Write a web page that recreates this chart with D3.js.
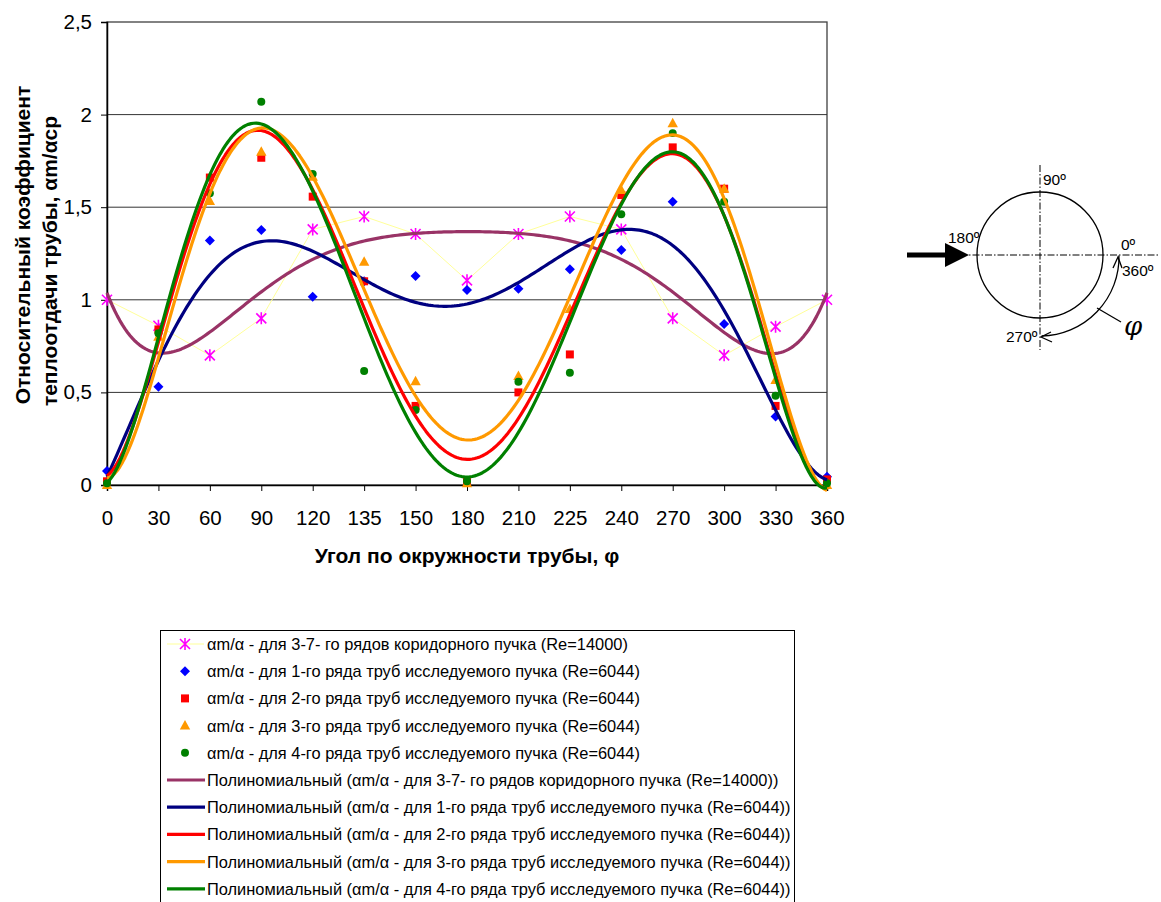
<!DOCTYPE html>
<html>
<head>
<meta charset="utf-8">
<script src="https://cdn.jsdelivr.net/npm/d3@7"></script>
<style>
  html, body { margin: 0; padding: 0; background: #fff; }
  svg { display: block; font-family: "Liberation Sans", Arial, sans-serif; }
</style>
</head>
<body>
<svg id="chart" width="1161" height="902"></svg>
<script>
// Angle categories along the tube circumference (degrees)
const categories = ["0", "30", "60", "90", "120", "135", "150", "180", "210", "225", "240", "270", "300", "330", "360"];
const yTicks = [0, 0.5, 1, 1.5, 2, 2.5];

// Relative heat transfer coefficient αm/α for each tube row
const rows37 = [1.0, 0.86, 0.70, 0.90, 1.38, 1.45, 1.355, 1.105, 1.355, 1.45, 1.38, 0.90, 0.70, 0.855, 1.0];
const row1 = [0.075, 0.53, 1.32, 1.377, 1.017, 1.10, 1.128, 1.053, 1.06, 1.165, 1.269, 1.53, 0.87, 0.37, 0.045];
const row2 = [0.02, 0.84, 1.66, 1.767, 1.557, 1.10, 0.427, 0.02, 0.50, 0.705, 1.566, 1.823, 1.60, 0.427, 0.03];
const row3 = [0.0, 0.80, 1.533, 1.80, 1.665, 1.206, 0.56, 0.01, 0.589, 0.95, 1.593, 1.953, 1.60, 0.567, 0.0];
const row4 = [0.01, 0.82, 1.575, 2.07, 1.68, 0.615, 0.405, 0.02, 0.558, 0.606, 1.462, 1.90, 1.53, 0.482, 0.01];

const seriesNames = [
  "αm/α - для 3-7- го рядов коридорного пучка (Re=14000)",
  "αm/α - для 1-го ряда труб исследуемого пучка (Re=6044)",
  "αm/α - для 2-го ряда труб исследуемого пучка (Re=6044)",
  "αm/α - для 3-го ряда труб исследуемого пучка (Re=6044)",
  "αm/α - для 4-го ряда труб исследуемого пучка (Re=6044)"
];
const series = [
  { name: seriesNames[0], values: rows37, marker: "star",     color: "#FF00FF", trend: "#993366" },
  { name: seriesNames[1], values: row1,   marker: "diamond",  color: "#0000FF", trend: "#000080" },
  { name: seriesNames[2], values: row2,   marker: "square",   color: "#FF0000", trend: "#FF0000" },
  { name: seriesNames[3], values: row3,   marker: "triangle", color: "#FF9900", trend: "#FF9900" },
  { name: seriesNames[4], values: row4,   marker: "circle",   color: "#008000", trend: "#008000" }
];

const svg = d3.select("#chart");
const plot = { left: 107, right: 827, top: 22, bottom: 485 };

const x = d3.scalePoint().domain(categories).range([plot.left, plot.right]);
const y = d3.scaleLinear().domain([0, 2.5]).range([plot.bottom, plot.top]);
const fmt = v => String(v).replace(".", ",");

// Continuous position along the category axis (index 0..n-1) for trend curves
const xi = d3.scaleLinear().domain([0, categories.length - 1]).range([plot.left, plot.right]);

// Least-squares polynomial fit (order 6) over category index 1..n
function polyFit(values, order) {
  const n = values.length;
  const mid = (n + 1) / 2, half = (n - 1) / 2;
  const m = order + 1;
  const A = Array.from({ length: m }, () => new Array(m + 1).fill(0));
  values.forEach((v, i) => {
    const t = (i + 1 - mid) / half;
    const p = [];
    for (let k = 0; k < m; k++) p.push(Math.pow(t, k));
    for (let r = 0; r < m; r++) {
      for (let c = 0; c < m; c++) A[r][c] += p[r] * p[c];
      A[r][m] += p[r] * v;
    }
  });
  for (let col = 0; col < m; col++) {
    let piv = col;
    for (let r = col + 1; r < m; r++) if (Math.abs(A[r][col]) > Math.abs(A[piv][col])) piv = r;
    [A[col], A[piv]] = [A[piv], A[col]];
    for (let r = 0; r < m; r++) {
      if (r === col) continue;
      const f = A[r][col] / A[col][col];
      for (let c = col; c <= m; c++) A[r][c] -= f * A[col][c];
    }
  }
  const coef = A.map((row, k) => row[m] / row[k]);
  return idx => {
    const t = (idx + 1 - mid) / half;
    let s = 0;
    for (let k = m - 1; k >= 0; k--) s = s * t + coef[k];
    return s;
  };
}

// Marker shapes
function markerPath(type) {
  switch (type) {
    case "diamond": return "M0,-5L5,0L0,5L-5,0Z";
    case "square": return "M-4,-4H4V4H-4Z";
    case "triangle": return "M0,-5.5L5.2,4L-5.2,4Z";
    case "circle": return d3.symbol().type(d3.symbolCircle).size(50)();
    case "star": return "M-5,-5L5,5M-5,5L5,-5M0,-6L0,6";
  }
}
function drawMarker(g, type, color) {
  const p = g.append("path").attr("d", markerPath(type));
  if (type === "star") p.attr("fill", "none").attr("stroke", color).attr("stroke-width", 1.6);
  else p.attr("fill", color);
  return p;
}

// Plot frame and horizontal gridlines
svg.append("rect")
  .attr("x", plot.left).attr("y", plot.top)
  .attr("width", plot.right - plot.left).attr("height", plot.bottom - plot.top)
  .attr("fill", "#fff").attr("stroke", "#404040").attr("stroke-width", 1.3);

svg.append("g").selectAll("line").data(yTicks.filter(v => v > 0 && v < 2.5)).join("line")
  .attr("x1", plot.left).attr("x2", plot.right)
  .attr("y1", d => y(d)).attr("y2", d => y(d))
  .attr("stroke", "#333").attr("stroke-width", 1);

// Axes
const yAxis = svg.append("g").attr("transform", `translate(${plot.left},0)`)
  .call(d3.axisLeft(y).tickValues(yTicks).tickFormat(fmt).tickSize(6).tickPadding(9));
const xAxis = svg.append("g").attr("transform", `translate(0,${plot.bottom})`)
  .call(d3.axisBottom(x).tickSize(6).tickPadding(19));
[xAxis, yAxis].forEach(a => {
  a.select(".domain").attr("stroke", "#000").attr("stroke-width", 1.5);
  a.selectAll(".tick line").attr("stroke", "#000");
  a.selectAll(".tick text").attr("font-size", 20.5).attr("fill", "#000")
    .attr("font-family", "Liberation Sans, Arial, sans-serif");
});

// Axis titles
svg.append("text").attr("x", 467).attr("y", 563).attr("text-anchor", "middle")
  .attr("font-size", 21).attr("font-weight", "bold").text("Угол по окружности трубы, φ");
svg.append("text").attr("transform", "translate(30,245) rotate(-90)")
  .attr("text-anchor", "middle").attr("font-size", 21).attr("font-weight", "bold")
  .text("Относительный коэффициент");
svg.append("text").attr("transform", "translate(57,261) rotate(-90)")
  .attr("text-anchor", "middle").attr("font-size", 21).attr("font-weight", "bold")
  .text("теплоотдачи трубы, αm/αср");

// Thin connecting line of the corridor bundle series
svg.append("path")
  .attr("d", d3.line().x((d, i) => x(categories[i])).y(d => y(d))(rows37))
  .attr("fill", "none").attr("stroke", "#FFFF99").attr("stroke-width", 1);

// Data markers
series.forEach(s => {
  const g = svg.append("g");
  s.values.forEach((v, i) => {
    const m = g.append("g").attr("transform", `translate(${x(categories[i])},${y(v)})`);
    drawMarker(m, s.marker, s.color);
  });
});

// Polynomial trend curves
const fine = d3.range(0, categories.length - 1 + 1e-9, 0.05);
series.forEach(s => {
  const f = polyFit(s.values, 6);
  svg.append("path")
    .attr("d", d3.line().x(t => xi(t)).y(t => y(f(t)))(fine))
    .attr("fill", "none").attr("stroke", s.trend).attr("stroke-width", 3.2)
    .attr("stroke-linejoin", "round");
});

// Legend
const legend = svg.append("g");
legend.append("rect").attr("x", 160.5).attr("y", 630.5).attr("width", 634).attr("height", 290)
  .attr("fill", "#fff").attr("stroke", "#000").attr("stroke-width", 1);
const entries = [
  ...series.map(s => ({ kind: "marker", s, label: s.name })),
  ...series.map(s => ({ kind: "trend", s, label: `Полиномиальный (${s.name})` }))
];
entries.forEach((e, i) => {
  const cy = 644 + i * 27.2;
  const g = legend.append("g");
  if (e.kind === "marker") {
    if (e.s.marker === "star") {
      g.append("line").attr("x1", 167).attr("x2", 204).attr("y1", cy).attr("y2", cy)
        .attr("stroke", "#FFFF99").attr("stroke-width", 1);
    }
    const m = g.append("g").attr("transform", `translate(185,${cy})`);
    drawMarker(m, e.s.marker, e.s.color);
  } else {
    g.append("line").attr("x1", 167).attr("x2", 205).attr("y1", cy).attr("y2", cy)
      .attr("stroke", e.s.trend).attr("stroke-width", 3.2);
  }
  g.append("text").attr("x", 207).attr("y", cy + 6).attr("font-size", 16.4).text(e.label);
});

// Tube cross-section sketch: flow direction and angle reference
const sk = svg.append("g");
const cx = 1040, cyc = 255, r = 63;
sk.append("line").attr("x1", 960).attr("x2", 1160).attr("y1", cyc).attr("y2", cyc)
  .attr("stroke", "#000").attr("stroke-width", 1).attr("stroke-dasharray", "7,2,1.5,2");
sk.append("line").attr("x1", cx).attr("x2", cx).attr("y1", 165).attr("y2", 350)
  .attr("stroke", "#000").attr("stroke-width", 1).attr("stroke-dasharray", "7,2,1.5,2");
sk.append("circle").attr("cx", cx).attr("cy", cyc).attr("r", r)
  .attr("fill", "none").attr("stroke", "#000").attr("stroke-width", 1.3);
sk.append("line").attr("x1", 907).attr("x2", 948).attr("y1", cyc).attr("y2", cyc)
  .attr("stroke", "#000").attr("stroke-width", 5);
sk.append("path").attr("d", `M945,${cyc - 12}L969,${cyc}L945,${cyc + 12}Z`).attr("fill", "#000");

// Angle arc from 0º down to 270º with arrowheads at both ends
const ar = 79;
const arcPath = d3.path();
arcPath.arc(cx, cyc + 2, ar, -0.02, Math.PI / 2 - 0.02, false);
sk.append("path").attr("d", arcPath.toString()).attr("fill", "none").attr("stroke", "#000").attr("stroke-width", 1.3);
sk.append("path").attr("d", `M1113,268L1118,257L1122,268`).attr("fill", "none").attr("stroke", "#000").attr("stroke-width", 1.3);
sk.append("path").attr("d", `M1051,332L1041,337L1052,342`).attr("fill", "none").attr("stroke", "#000").attr("stroke-width", 1.3);
sk.append("line").attr("x1", 1097).attr("y1", 308).attr("x2", 1121).attr("y2", 322)
  .attr("stroke", "#000").attr("stroke-width", 1.3);

const lab = (tx, ty, t, size) => sk.append("text").attr("x", tx).attr("y", ty)
  .attr("font-size", size || 15.5).text(t);
lab(1043, 185, "90º");
lab(948, 243, "180º");
lab(1121, 250, "0º");
lab(1122, 276, "360º");
lab(1006, 342, "270º");
sk.append("text").attr("x", 1124).attr("y", 335).attr("font-size", 26)
  .attr("font-style", "italic").attr("font-family", "DejaVu Serif, serif").text("φ");
</script>
</body>
</html>
